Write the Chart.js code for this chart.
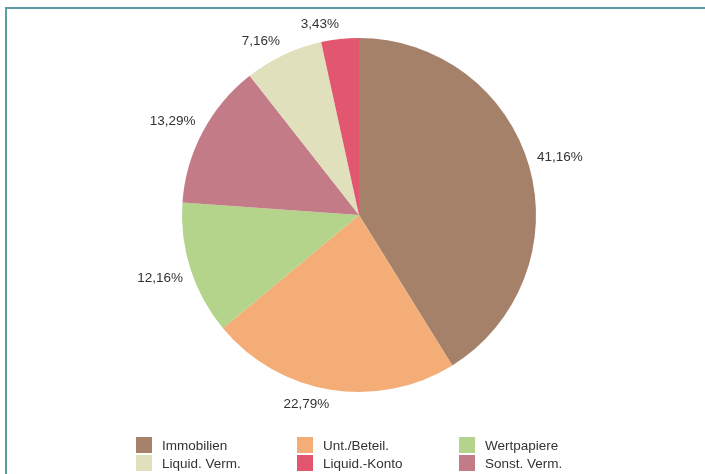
<!DOCTYPE html>
<html>
<head>
<meta charset="utf-8">
<script src="https://cdn.jsdelivr.net/npm/chart.js@4"></script>
<style>
  html, body { margin: 0; padding: 0; background: #fff; }
  #wrap { position: relative; width: 705px; height: 474px; overflow: hidden; }
  #frame {
    position: absolute; left: 5px; top: 7px; width: 720px; height: 480px;
    border-top: 2px solid #5d9ea4; border-left: 2px solid #5d9ea4;
  }
  #chart { position: absolute; left: 0; top: 0; }
  #legend {
    position: absolute; left: 136px; top: 437px;
    display: grid; grid-template-columns: 161px 162px 160px; row-gap: 2px;
    font-family: "Liberation Sans", Arial, sans-serif; font-size: 13.5px; color: #333;
  }
  .item { display: flex; align-items: center; height: 16px; }
  .sw { width: 16px; height: 16px; margin-right: 10px; }
</style>
</head>
<body>
<div id="wrap">
  <div id="frame"></div>
  <canvas id="chart" width="705" height="474"></canvas>
  <div id="legend"></div>
</div>
<script>
// 🥧 Vermögensaufteilung - Daten
const categories = ["Immobilien", "Unt./Beteil.", "Wertpapiere", "Sonst. Verm.", "Liquid. Verm.", "Liquid.-Konto"];
const shares = [41.16, 22.79, 12.16, 13.29, 7.16, 3.43];
const colors = ["#a6816a", "#f5ad78", "#b3d48a", "#c47b88", "#e0e0bd", "#e2566f"];
const legendOrder = ["Immobilien", "Unt./Beteil.", "Wertpapiere", "Liquid. Verm.", "Liquid.-Konto", "Sonst. Verm."];

const fmt = (v) => v.toFixed(2).replace(".", ",") + "%";

// 🏷️ Prozent-Labels außerhalb der Segmente
const outsideLabels = {
  id: "outsideLabels",
  afterDatasetsDraw(chart) {
    const { ctx } = chart;
    const meta = chart.getDatasetMeta(0);
    ctx.save();
    ctx.font = "13.5px 'Liberation Sans', Arial, sans-serif";
    ctx.fillStyle = "#333";
    meta.data.forEach((arc, i) => {
      const { x, y, startAngle, endAngle, outerRadius } = arc.getProps(["x", "y", "startAngle", "endAngle", "outerRadius"], true);
      const mid = (startAngle + endAngle) / 2;
      const r = outerRadius + 8;
      const c = Math.cos(mid), s = Math.sin(mid);
      ctx.textAlign = c >= 0 ? "left" : "right"; // rechte Hälfte links-, linke Hälfte rechtsbündig
      ctx.textBaseline = s >= 0 ? "top" : "bottom";
      ctx.fillText(fmt(shares[i]), x + c * r, y + s * r);
    });
    ctx.restore();
  },
};

new Chart(document.getElementById("chart"), {
  type: "pie",
  data: {
    labels: categories,
    datasets: [
      {
        data: shares,
        backgroundColor: colors,
        borderWidth: 0,
      },
    ],
  },
  options: {
    responsive: false,
    animation: false,
    layout: { padding: { left: 182, right: 169, top: 38, bottom: 82 } },
    plugins: {
      legend: { display: false },
      tooltip: { enabled: false },
    },
  },
  plugins: [outsideLabels],
});

// 📋 Legende (3 Spalten)
const legendEl = document.getElementById("legend");
legendOrder.forEach((name) => {
  const i = categories.indexOf(name);
  const item = document.createElement("div");
  item.className = "item";
  item.innerHTML = `<span class="sw" style="background:${colors[i]}"></span><span>${name}</span>`;
  legendEl.appendChild(item);
});
</script>
</body>
</html>
